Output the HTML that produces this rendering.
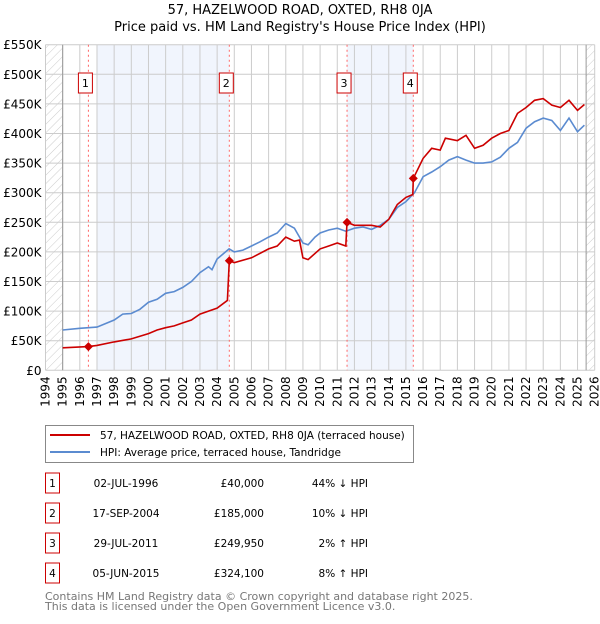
<!DOCTYPE html>
<html><head><meta charset="utf-8"><style>
body{margin:0;background:#fff;font-family:"DejaVu Sans","Liberation Sans",sans-serif;}
svg text{font-family:"DejaVu Sans","Liberation Sans",sans-serif;}
</style></head><body>
<svg id="c" width="600" height="620" xmlns="http://www.w3.org/2000/svg">
<defs><pattern id="h" width="6" height="6" patternUnits="userSpaceOnUse" patternTransform="rotate(45)"><line x1="0" y1="0" x2="0" y2="6" stroke="#ccc" stroke-width="1"/></pattern></defs>
<text x="300" y="14" text-anchor="middle" font-size="13">57, HAZELWOOD ROAD, OXTED, RH8 0JA</text>
<text x="300" y="31" text-anchor="middle" font-size="13">Price paid vs. HM Land Registry's House Price Index (HPI)</text>
<g id="plot"></g>
<g>
<rect x="45.5" y="425.5" width="368" height="37" fill="#fff" stroke="#888"/>
<line x1="50" y1="435" x2="90" y2="435" stroke="#cc0000" stroke-width="2"/>
<text x="100" y="439" font-size="10.5">57, HAZELWOOD ROAD, OXTED, RH8 0JA (terraced house)</text>
<line x1="50" y1="452" x2="90" y2="452" stroke="#5b8bd0" stroke-width="2"/>
<text x="100" y="456" font-size="10.5">HPI: Average price, terraced house, Tandridge</text>
</g>
<g id="tbl" font-size="10.5"></g>
<text x="45" y="600" font-size="11" fill="#777">Contains HM Land Registry data © Crown copyright and database right 2025.</text>
<text x="45" y="610" font-size="11" fill="#777">This data is licensed under the Open Government Licence v3.0.</text>
</svg>
<script>
const hpiYears=[1995,1996,1997,1998,1998.5,1999,1999.5,2000,2000.5,2001,2001.5,2002,2002.5,2003,2003.5,2003.7,2004,2004.7,2005,2005.5,2006,2006.5,2007,2007.5,2008,2008.5,2009,2009.3,2009.7,2010,2010.5,2011,2011.5,2012,2012.5,2013,2013.5,2014,2014.5,2015,2015.5,2016,2016.5,2017,2017.5,2018,2018.5,2019,2019.5,2020,2020.5,2021,2021.5,2022,2022.5,2023,2023.5,2024,2024.5,2025,2025.4];
const hpiValues=[68,71,73,85,95,96,103,115,120,130,133,140,150,165,175,170,188,205,200,203,210,217,225,232,248,240,215,212,225,232,237,240,235,240,242,238,245,255,275,285,300,327,335,344,355,361,355,350,350,352,360,375,385,409,420,426,422,405,426,403,414];
const ppYears=[1995,1996.5,1997,1998,1999,2000,2000.5,2001,2001.5,2002,2002.5,2003,2003.5,2004,2004.6,2004.71,2005,2006,2007,2007.5,2008,2008.5,2008.8,2009,2009.3,2010,2010.5,2011,2011.5,2011.57,2012,2012.5,2013,2013.5,2014,2014.5,2015,2015.4,2015.43,2016,2016.5,2017,2017.3,2018,2018.5,2019,2019.5,2020,2020.5,2021,2021.5,2022,2022.5,2023,2023.5,2024,2024.5,2025,2025.4];
const ppValues=[38,40,42,48,53,62,68,72,75,80,85,95,100,105,118,185,182,190,205,210,225,218,220,190,187,205,210,215,210,249.95,245,245,245,242,255,280,292,297,324.1,358,375,372,392,388,397,375,380,392,400,405,434,444,456,459,448,444,456,439,449];
const saleYears=[1996.5,2004.71,2011.57,2015.43];
const saleValues=[40,185,249.95,324.1];
const saleDates=["02-JUL-1996","17-SEP-2004","29-JUL-2011","05-JUN-2015"];
const salePrices=["£40,000","£185,000","£249,950","£324,100"];
const saleHpi=["44% ↓ HPI","10% ↓ HPI","2% ↑ HPI","8% ↑ HPI"];
const yTicks=[0,50,100,150,200,250,300,350,400,450,500,550];
const yTickLabels=["£0","£50K","£100K","£150K","£200K","£250K","£300K","£350K","£400K","£450K","£500K","£550K"];
const X0=45.5,X1=594.7,Y0=370.3,Y1=44.7,YMIN=1994,YMAX=2026,VMAX=550;
const sx=y=>X0+(y-YMIN)/(YMAX-YMIN)*(X1-X0);
const sy=v=>Y0-v/VMAX*(Y0-Y1);
const NS="http://www.w3.org/2000/svg";
function mk(p,t,a){const e=document.createElementNS(NS,t);for(const k in a)e.setAttribute(k,a[k]);p.appendChild(e);return e;}
const g=document.getElementById('plot');
let e;
e=mk(g,'rect',{x:sx(1994),y:Y1,width:sx(1995)-sx(1994),height:Y0-Y1,fill:'url(#h)'});


e=mk(g,'rect',{x:sx(2025.5),y:Y1,width:X1-sx(2025.5),height:Y0-Y1,fill:'url(#h)'});


e=mk(g,'rect',{x:sx(1997),y:Y1,width:sx(saleYears[1])-sx(1997),height:Y0-Y1,fill:'#eef3fc',opacity:0.8});


e=mk(g,'rect',{x:sx(saleYears[2]),y:Y1,width:sx(saleYears[3])-sx(saleYears[2]),height:Y0-Y1,fill:'#eef3fc',opacity:0.8});


for(let yr=YMIN;yr<=YMAX;yr++){
 e=mk(g,'line',{x1:sx(yr),x2:sx(yr),y1:Y1,y2:Y0,stroke:'#ccc','stroke-width':1});
 
 
 const t=mk(g,'text',{x:0,y:0,'font-size':12,'text-anchor':'end',transform:`translate(${sx(yr)+4},${Y0+6}) rotate(-90)`});
 t.textContent=yr;
 
 
}
yTicks.forEach((v,i)=>{
 e=mk(g,'line',{x1:X0,x2:X1,y1:sy(v),y2:sy(v),stroke:'#ccc','stroke-width':1});
 
 
 const t=mk(g,'text',{x:X0-4,y:sy(v)+4.5,'font-size':12,'text-anchor':'end'});
 t.textContent=yTickLabels[i];
 
 
});
e=mk(g,'line',{x1:sx(1995),x2:sx(1995),y1:Y1,y2:Y0,stroke:'#999'});


e=mk(g,'line',{x1:sx(2025.5),x2:sx(2025.5),y1:Y1,y2:Y0,stroke:'#999'});


saleYears.forEach((yr,i)=>{
 e=mk(g,'line',{x1:sx(yr),x2:sx(yr),y1:Y1,y2:Y0,stroke:'#f66','stroke-dasharray':'2,3'});
 
 
 e=mk(g,'rect',{x:sx(yr)-10,y:73,width:14,height:20,fill:'#fff',stroke:'#cc0000'});
 
 
 const t=mk(g,'text',{x:sx(yr)-3,y:87,'font-size':11,'text-anchor':'middle'});
 t.textContent=i+1;
 
 
});
function path(xs,vs,col,name){
 const d=xs.map((x,i)=>(i?'L':'M')+sx(x).toFixed(1)+','+sy(vs[i]).toFixed(1)).join('');
 const p=mk(g,'path',{d:d,fill:'none',stroke:col,'stroke-width':1.6});
 
 
}
path(hpiYears,hpiValues,'#5b8bd0','hpi-line');
path(ppYears,ppValues,'#cc0000','property-line');
saleYears.forEach((yr,i)=>{
 const x=sx(yr),y=sy(saleValues[i]);
 const p=mk(g,'path',{d:`M${x-4.5},${y}L${x},${y-4.5}L${x+4.5},${y}L${x},${y+4.5}Z`,fill:'#cc0000'});
 
 
});
const tb=document.getElementById('tbl');
saleDates.forEach((d,i)=>{
 const cy=483+i*30;
 let r=mk(tb,'rect',{x:45.5,y:cy-10,width:14,height:20,fill:'#fff',stroke:'#cc0000'});
 
 
 let t=mk(tb,'text',{x:52.5,y:cy+4,'text-anchor':'middle'});t.textContent=i+1;
 
 
 t=mk(tb,'text',{x:126,y:cy+4,'text-anchor':'middle'});t.textContent=d;
 
 
 t=mk(tb,'text',{x:264,y:cy+4,'text-anchor':'end'});t.textContent=salePrices[i];
 
 
 t=mk(tb,'text',{x:368,y:cy+4,'text-anchor':'end'});t.textContent=saleHpi[i];
 
 
});
</script>
</body></html>
